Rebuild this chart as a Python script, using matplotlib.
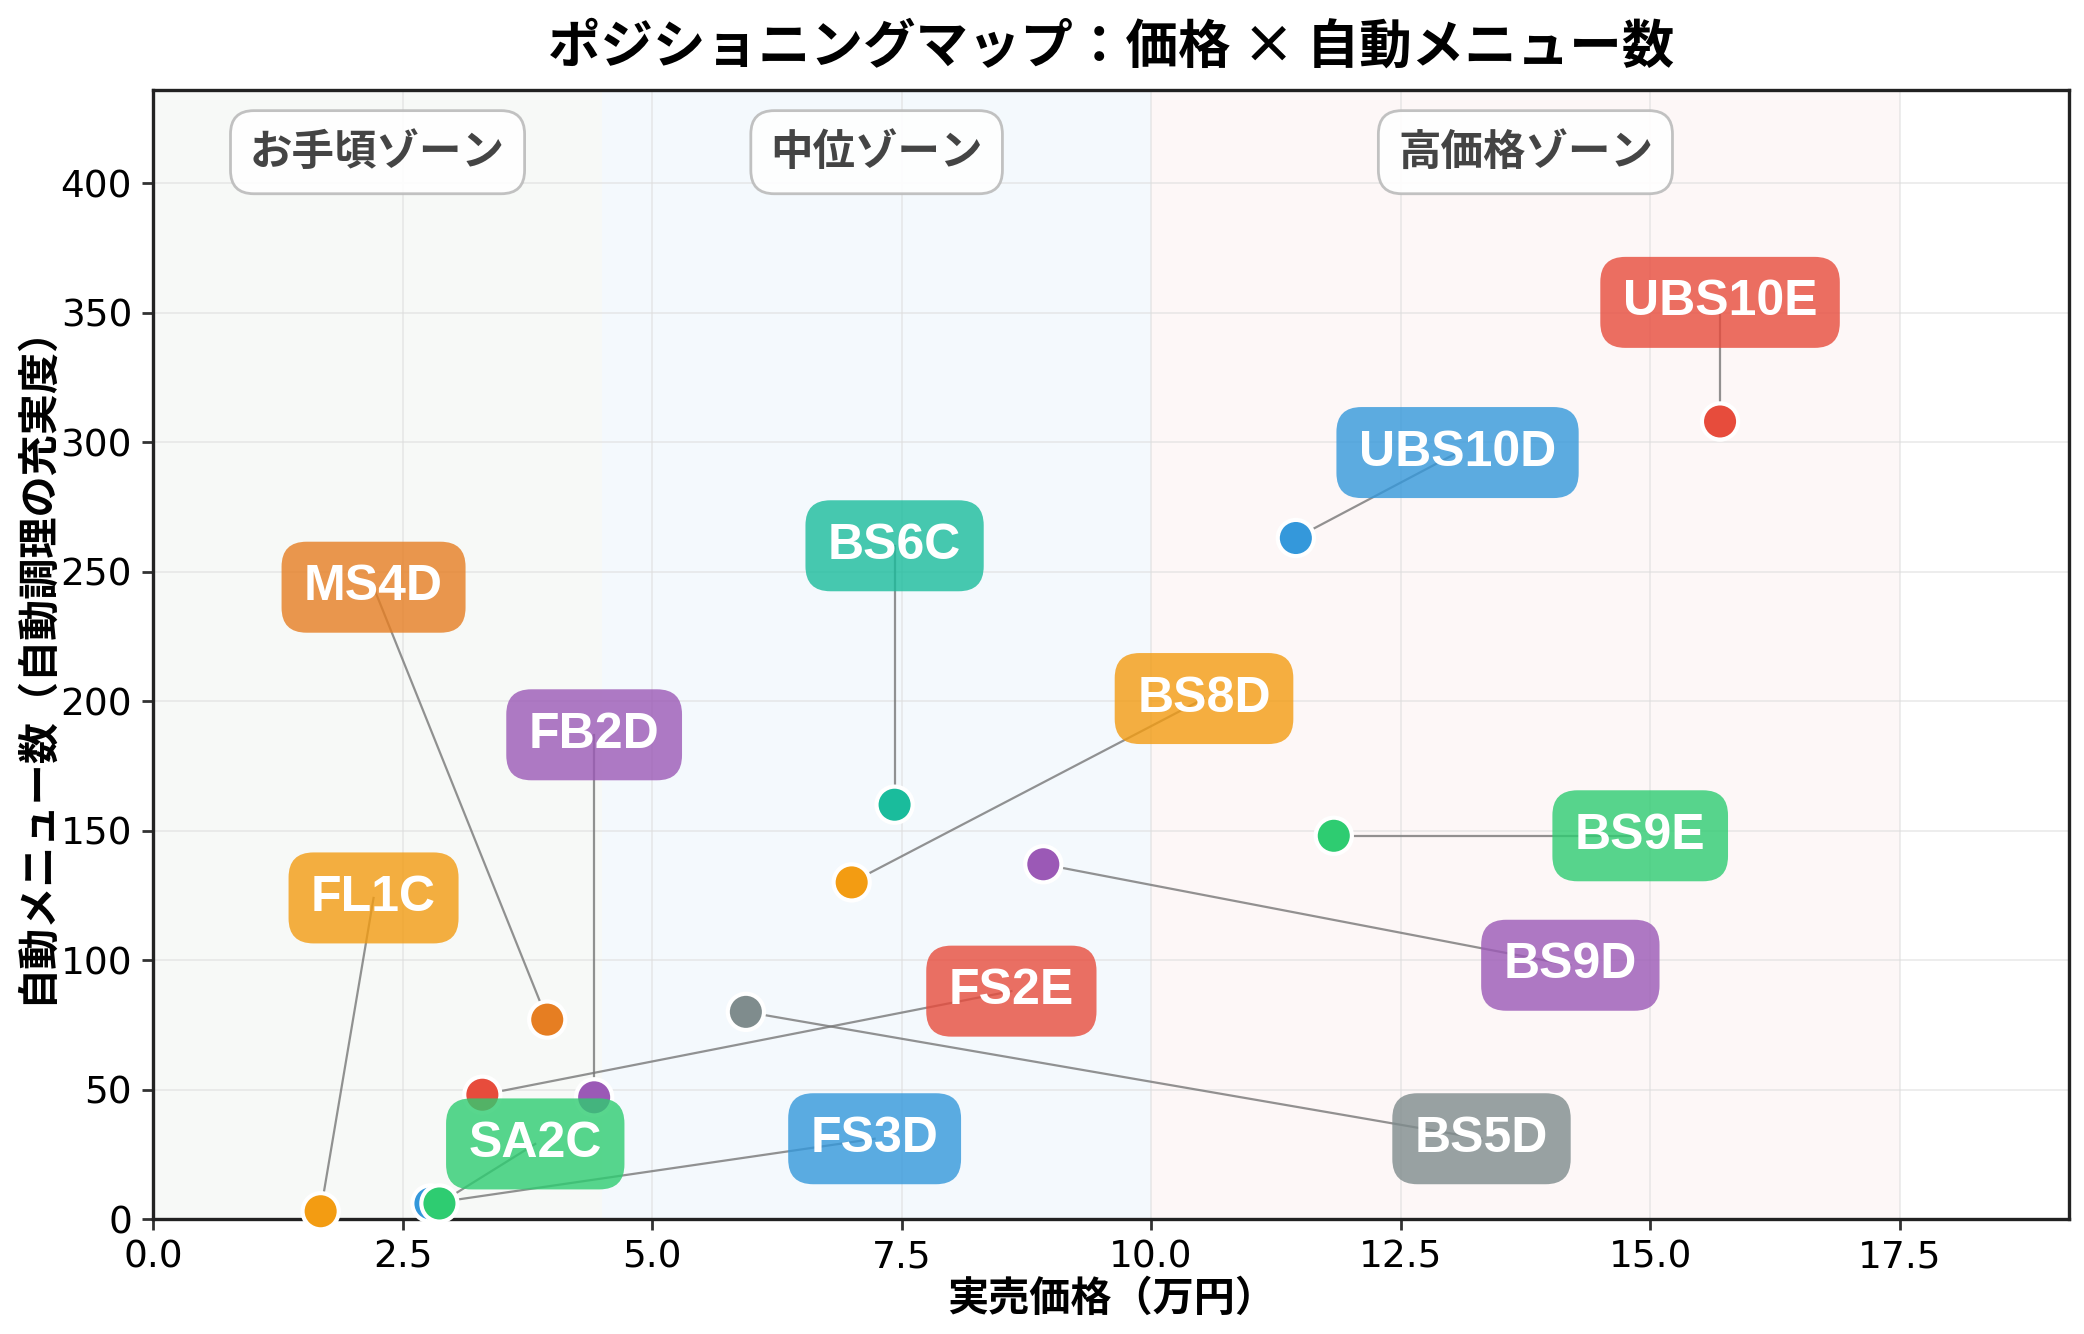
import matplotlib
matplotlib.use("Agg")
import matplotlib.pyplot as plt

plt.rcParams['font.family'] = ['Noto Sans CJK JP', 'DejaVu Sans']

# ---- data ----
models = ["FS3D", "UBS10E", "UBS10D", "BS6C", "MS4D", "BS8D", "FB2D",
          "BS9E", "BS9D", "FL1C", "FS2E", "BS5D", "SA2C"]
price = [2.78, 15.7, 11.45, 7.43, 3.95, 7.0, 4.42, 11.83, 8.92, 1.68, 3.30, 5.94, 2.87]
menus = [6, 308, 263, 160, 77, 130, 47, 148, 137, 3, 48, 80, 6]
colors = ["#3498db", "#e74c3c", "#3498db", "#1abc9c", "#e67e22", "#f39c12", "#9b59b6",
          "#2ecc71", "#9b59b6", "#f39c12", "#e74c3c", "#7f8c8d", "#2ecc71"]
label_x = [7.23, 15.7, 13.07, 7.43, 2.21, 10.53, 4.42, 14.9, 14.2, 2.21, 8.6, 13.31, 3.83]
label_y = [31, 354, 296, 260, 244, 201, 187, 148, 98, 124, 88, 31, 29]

zone_names = ["お手頃ゾーン", "中位ゾーン", "高価格ゾーン"]
zone_bounds = [(0, 4.5), (4.5, 10.0), (10.0, 17.5)]
zone_colors = ["#f7f9f7", "#f4f9fd", "#fdf7f7"]

xticks = [0.0, 2.5, 5.0, 7.5, 10.0, 12.5, 15.0, 17.5]
yticks = [0, 50, 100, 150, 200, 250, 300, 350, 400]

fig = plt.figure(figsize=(10.42, 6.67), dpi=200)
ax = fig.add_axes([0.0734, 0.0862, 0.993 - 0.0734, 0.9325 - 0.0862])

ax.set_xlim(0, 19.2)
ax.set_ylim(0, 436)

for (a, b), c in zip(zone_bounds, zone_colors):
    ax.axvspan(a, b, color=c, zorder=0, lw=0)

for name, (a, b) in zip(zone_names, zone_bounds):
    ax.text((a + b) / 2, 412, name, ha="center", va="center", fontsize=15.3,
            fontweight="bold", color="#444444", zorder=6,
            bbox=dict(boxstyle="round,pad=0.46,rounding_size=0.55", fc="white",
                      ec="#bbbbbb", lw=1.0, alpha=0.9))

ax.grid(True, color="#dddddd", alpha=0.6, lw=0.6, zorder=1)
ax.set_axisbelow(True)

for px, py, lx, ly in zip(price, menus, label_x, label_y):
    ax.plot([px, lx], [py, ly], color="#777777", lw=0.8, alpha=0.8, zorder=2)

ax.scatter(price, menus, s=170, c=colors, edgecolors="white", linewidths=1.5, zorder=3,
           clip_on=False)

for name, lx, ly, c in zip(models, label_x, label_y, colors):
    ax.text(lx, ly, name, ha="center", va="center", fontsize=18, fontweight="bold",
            family=["Liberation Sans", "DejaVu Sans"], color="white", zorder=5,
            bbox=dict(boxstyle="round,pad=0.45,rounding_size=0.5", fc=c, ec="none",
                      alpha=0.8))

ax.set_xticks(xticks)
ax.set_yticks(yticks)
ax.tick_params(labelsize=13.5, length=4, width=1, color="#333333")
for lab in ax.get_xticklabels() + ax.get_yticklabels():
    lab.set_fontfamily(["DejaVu Sans"])
for s in ax.spines.values():
    s.set_color("#222222")
    s.set_linewidth(1.2)

ax.set_xlabel("実売価格（万円）", fontsize=14.8, fontweight="bold", labelpad=0.8)
ax.set_ylabel("自動メニュー数（自動調理の充実度）", fontsize=14.8, fontweight="bold", labelpad=1.5)
ax.set_title("ポジショニングマップ：価格 × 自動メニュー数", fontsize=18.9, fontweight="bold", pad=10)

fig.savefig("out.png", dpi=200)
